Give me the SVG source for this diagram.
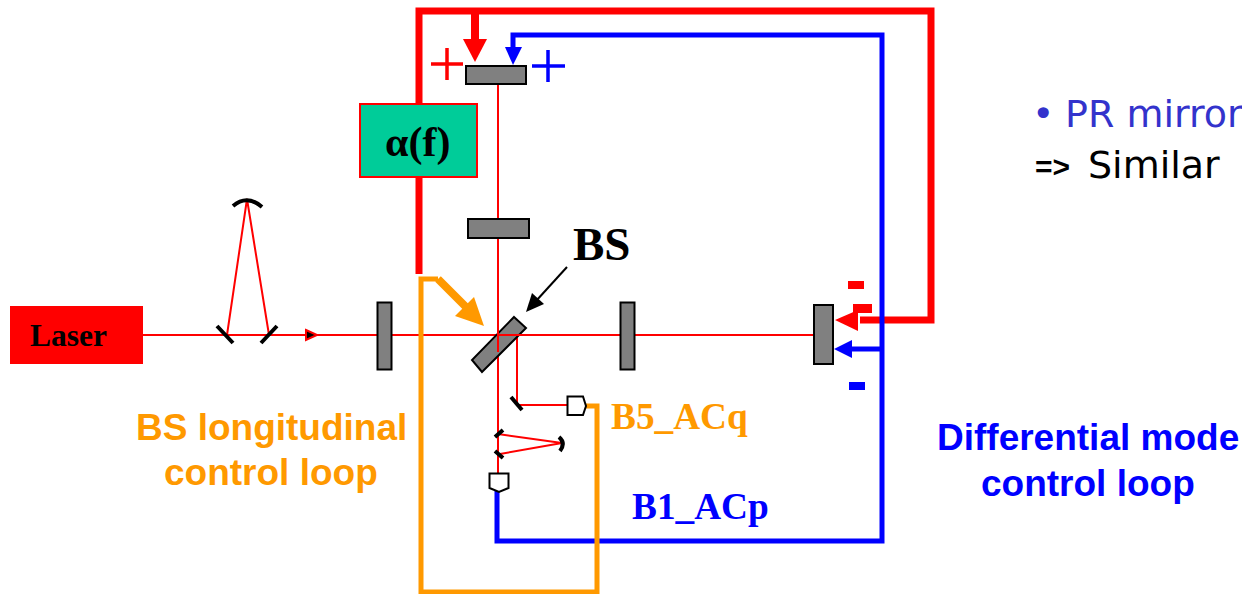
<svg xmlns="http://www.w3.org/2000/svg" width="1242" height="594" viewBox="0 0 1242 594">
<style>
.opt{fill:#808080;stroke:#000;stroke-width:2}
.beam{fill:none;stroke:#f00;stroke-width:2}
.mir{fill:none;stroke:#000;stroke-width:4}
.det{fill:#fff;stroke:#000;stroke-width:2}
.red{fill:none;stroke:#f00;stroke-width:7}
.blue{fill:none;stroke:#00f;stroke-width:5}
.org{fill:none;stroke:#f90;stroke-width:5}
.s{font-family:"Liberation Sans",sans-serif}
.s{font-family:"Liberation Serif",serif;font-weight:bold}
.a{font-family:"Liberation Sans",sans-serif;font-weight:bold;font-size:37px}
.c{font-family:"DejaVu Sans",sans-serif;font-size:38px}
.g{font-family:"Liberation Sans",sans-serif;font-weight:bold;font-size:30px}
</style>
<g id="beams">
<path class="beam" d="M143 335H814M227 335L247 199L269 335M498 84V473M517 335V405H568M498 434L562 443L500 454"/>
<path d="M306 330L317 335L306 340Z" fill="#000" stroke="#f00" stroke-width="2"/>
</g>
<g id="connectors">
<path class="red" d="M419 274V11H931V320H860"/>
<path d="M475 11V42" fill="none" stroke="#f00" stroke-width="8"/>
<path d="M463 39H487L475 62Z" fill="#f00"/>
<path class="blue" d="M513 50V35H882V541H497V490"/>
<path d="M505 47H522L513 65Z" fill="#00f"/>
<path d="M882 349H850" fill="none" stroke="#00f" stroke-width="5"/>
<path d="M852 340V358L834 349Z" fill="#00f"/>
<path d="M858 310V331L835 320Z" fill="#f00"/>
<path class="org" d="M586 406H597V592H421V279H438"/>
<path d="M438 279L467 308" fill="none" stroke="#f90" stroke-width="8"/>
<path d="M484 326L455 316L474 297Z" fill="#f90"/>
<path d="M567 267L536 301" fill="none" stroke="#000" stroke-width="2"/>
<path d="M526 312L532 293L544 304Z" fill="#000"/>
</g>
<g id="laser"><rect x="10" y="306" width="133" height="58" fill="#f00"/><text class="s" x="30" y="346" font-size="31.500">Laser</text></g>
<g id="mode-cleaner">
<path class="mir" d="M217 326L233 343M277 326L261 343"/>
<path class="mir" d="M233 206Q247 194 262 207"/>
</g>
<g id="alpha"><rect x="360" y="104" width="117" height="73" fill="#00cc99" stroke="#f00" stroke-width="2"/><text class="s" x="385" y="156" font-size="42">α(f)</text></g>
<g id="pr-mirror"><rect class="opt" x="466" y="66" width="60" height="18"/></g>
<g id="ni-mirror"><rect class="opt" x="468" y="219" width="61" height="19"/></g>
<g id="input-mirror"><rect class="opt" x="377.500" y="302.500" width="14" height="67"/></g>
<g id="west-mirror"><rect class="opt" x="620.500" y="302.500" width="14" height="67"/></g>
<g id="end-mirror"><rect class="opt" x="814" y="305" width="19" height="59"/></g>
<g id="bs"><path class="opt" d="M514 317L526 328L482 372L472 360Z"/><path d="M498 335H525M498 300V352" class="beam"/><text class="s" x="573" y="260" font-size="47">BS</text></g>
<g id="b5"><path class="mir" d="M511 397L522 410"/><path class="det" d="M567.500 396.500H583L586 406L583 415H567.500Z"/><text class="s" x="611" y="429" font-size="37.300" fill="#f90">B5_ACq</text></g>
<g id="b1"><path class="mir" d="M495 437L503 430M495 451L503 458M559 437Q566 443 560 451"/><path class="det" d="M489.500 473.500H508.500V488L499 492L489.500 488Z"/><text class="s" x="632" y="519" font-size="37.300" fill="#00f">B1_ACp</text></g>
<g id="signs">
<path d="M431 64H463M447 48V80" fill="none" stroke="#f00" stroke-width="3.500"/>
<path d="M532 66H565M548 50V82" fill="none" stroke="#00f" stroke-width="3.500"/>
<rect x="848" y="281" width="16" height="8" fill="#f00"/>
<rect x="853" y="304" width="19" height="9" fill="#f00"/>
<rect x="849" y="382" width="16" height="8" fill="#00f"/>
</g>
<g id="labels">
<text class="a" x="136" y="440" fill="#f90">BS longitudinal</text>
<text class="a" x="164" y="485" fill="#f90">control loop</text>
<text class="a" x="937" y="450" fill="#00f">Differential mode</text>
<text class="a" x="981" y="496" fill="#00f">control loop</text>
<text class="c" x="1032" y="127" fill="#3333cc">•<tspan x="1065">PR mirror</tspan></text>
<text class="g" x="1035" y="177" fill="#000">=&gt;</text>
<text class="c" x="1088" y="178" fill="#000">Similar</text>
</g>
</svg>
